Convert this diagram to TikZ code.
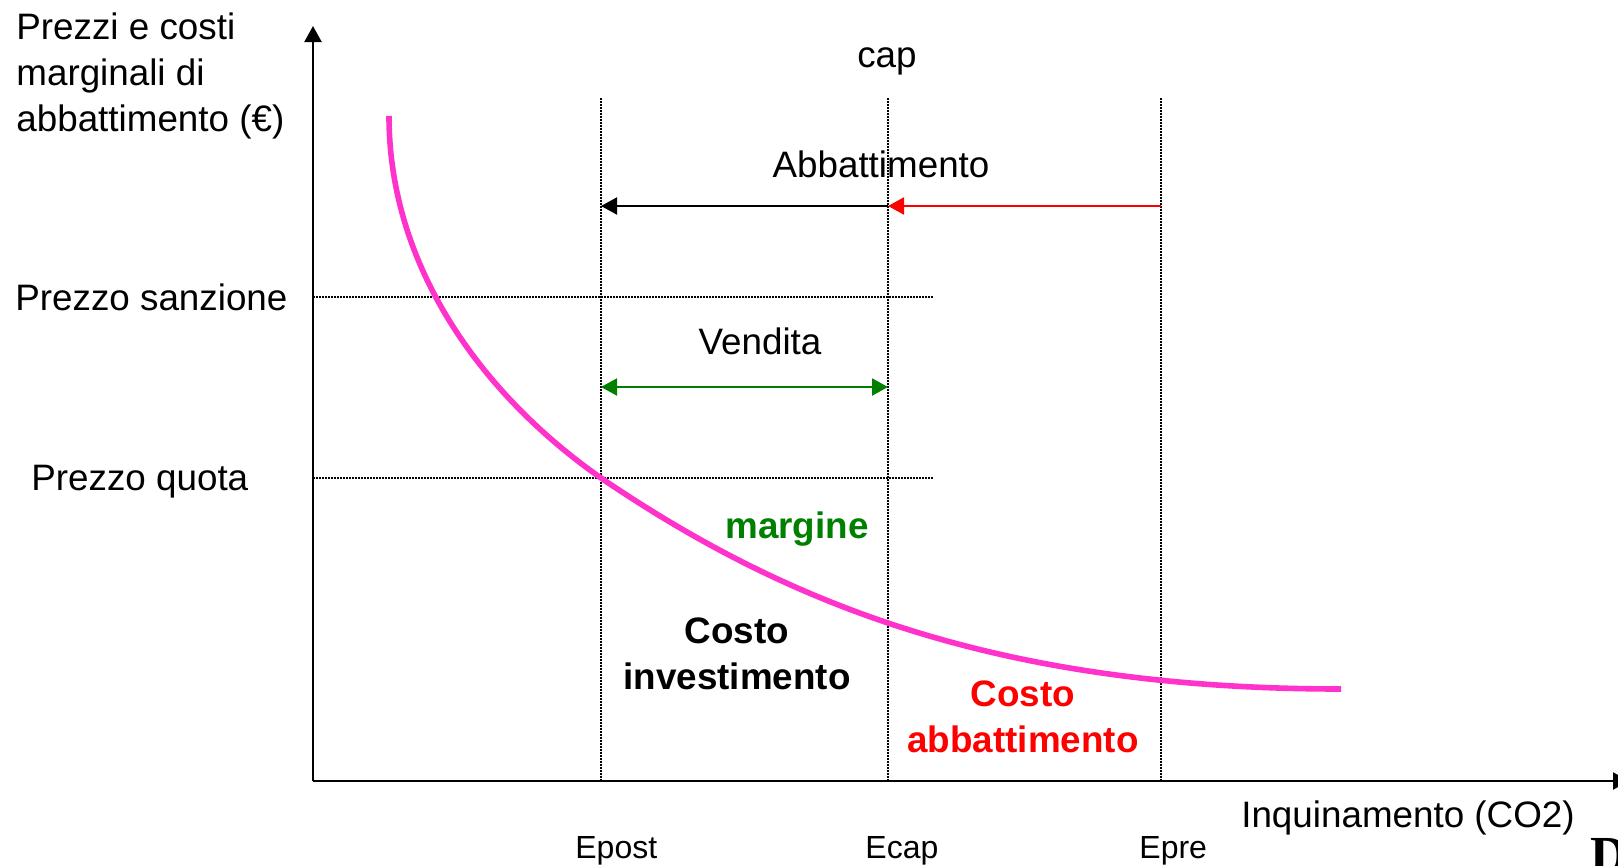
\documentclass[tikz,border=0pt]{standalone}
\usepackage{fontspec}
\setmainfont{Liberation Sans}
\newfontfamily\serifD{Liberation Serif}
\usetikzlibrary{arrows.meta}
\definecolor{curvepink}{HTML}{FF33CC}
\definecolor{darkgreen}{HTML}{008000}
\begin{document}
\begin{tikzpicture}[x=0.5bp,y=-0.5bp,
  lbl/.style={inner sep=0pt, font=\fontsize{18.4bp}{23bp}\selectfont},
  blbl/.style={inner sep=0pt, align=center, font=\fontsize{18.4bp}{23bp}\selectfont\bfseries},
  elbl/.style={inner sep=0pt, font=\fontsize{16bp}{19bp}\selectfont},
  axis/.style={line width=1.1bp, -{Triangle[length=8bp,width=8.5bp]}},
  dotline/.style={line width=0.75bp, dash pattern=on 0.75bp off 0.75bp},
  arr/.style={line width=1bp, -{Triangle[length=8bp,width=8.5bp]}},
  curve/.style={line width=2.8bp, curvepink}]
\useasboundingbox (0,0) rectangle (1618,865);
\fill[white] (0,0) rectangle (1618,865);

% coordinates
\coordinate (O) at (313,781);
\coordinate (ytip) at (313,26);
\coordinate (xtip) at (1629,781);
\coordinate (postT) at (601,98);  \coordinate (postB) at (601,781);
\coordinate (capT) at (888,98);   \coordinate (capB) at (888,781);
\coordinate (preT) at (1161,98);  \coordinate (preB) at (1161,781);
\coordinate (sanzL) at (313,297); \coordinate (sanzR) at (934,297);
\coordinate (quotaL) at (313,478); \coordinate (quotaR) at (934,478);
\coordinate (abbA) at (601,206); \coordinate (abbB) at (888,206); \coordinate (abbC) at (1161,206);
\coordinate (venL) at (601,387); \coordinate (venR) at (888,387);

% dotted guide lines
\draw[dotline] (postT) -- (postB);
\draw[dotline] (capT) -- (capB);
\draw[dotline] (preT) -- (preB);
\draw[dotline] (sanzL) -- (sanzR);
\draw[dotline] (quotaL) -- (quotaR);

% axes
\draw[axis] (O) -- (ytip);
\draw[axis] (O) -- (xtip);

% arrows
\draw[arr] (abbB) -- (abbA);
\draw[arr, red] (abbC) -- (abbB);
\draw[arr, darkgreen, {Triangle[length=8bp,width=8.5bp]}-{Triangle[length=8bp,width=8.5bp]}] (venL) -- (venR);

% curve
\draw[curve] (389,116) .. controls (389,266) and (481,394) .. (601,478)
  .. controls (781,600) and (991,689) .. (1341,689);

% texts
\node[lbl, align=left, anchor=base west] (ylab) at (16,131) {Prezzi e costi\\marginali di\\abbattimento (€)};
\node[lbl, anchor=base west] (sanz) at (15,310) {Prezzo sanzione};
\node[lbl, anchor=base west] (quota) at (31,490) {Prezzo quota};
\node[lbl, anchor=base] (cap) at (887,67) {cap};
\node[lbl, anchor=base] (abb) at (881,177) {Abbattimento};
\node[lbl, anchor=base] (vend) at (760,354) {Vendita};
\node[blbl, text=darkgreen, anchor=base] (marg) at (797,538) {margine};
\node[blbl, anchor=base] (cinv) at (737,689) {Costo\\investimento};
\node[blbl, text=red, anchor=base] (cabb) at (1023,752) {Costo\\abbattimento};
\node[lbl, anchor=base] (inq) at (1408,827) {Inquinamento (CO2)};
\node[elbl, anchor=base west] (epost) at (575,858) {Epost};
\node[elbl, anchor=base west] (ecap) at (865,858) {Ecap};
\node[elbl, anchor=base west] (epre) at (1139,858) {Epre};
\node[inner sep=0pt, anchor=north west, font=\serifD\bfseries\fontsize{26bp}{30bp}\selectfont] (dglyph) at (1590,838) {D};
\end{tikzpicture}
\end{document}
